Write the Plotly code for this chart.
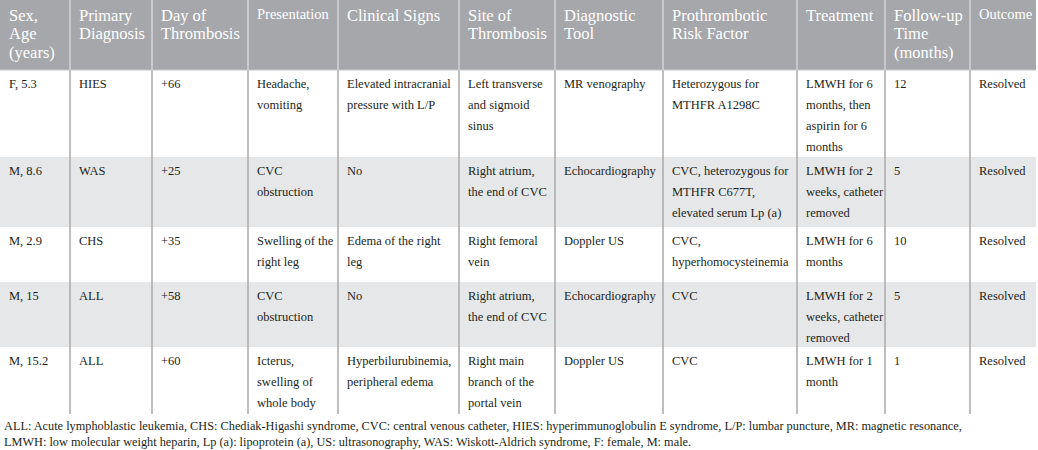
import plotly.graph_objects as go

# ---------------- data ----------------
headers = ["Sex,<br>Age<br>(years)", "Primary<br>Diagnosis", "Day of<br>Thrombosis",
           "Presentation", "Clinical Signs", "Site of<br>Thrombosis", "Diagnostic<br>Tool",
           "Prothrombotic<br>Risk Factor", "Treatment", "Follow-up<br>Time<br>(months)", "Outcome"]

sex_age = ["F, 5.3", "M, 8.6", "M, 2.9", "M, 15", "M, 15.2"]
primary_diagnosis = ["HIES", "WAS", "CHS", "ALL", "ALL"]
day_of_thrombosis = ["+66", "+25", "+35", "+58", "+60"]
presentation = ["Headache,<br>vomiting", "CVC<br>obstruction", "Swelling of the<br>right leg",
                "CVC<br>obstruction", "Icterus,<br>swelling of<br>whole body"]
clinical_signs = ["Elevated intracranial<br>pressure with L/P", "No", "Edema of the right<br>leg",
                  "No", "Hyperbilurubinemia,<br>peripheral edema"]
site_of_thrombosis = ["Left transverse<br>and sigmoid<br>sinus", "Right atrium,<br>the end of CVC",
                      "Right femoral<br>vein", "Right atrium,<br>the end of CVC",
                      "Right main<br>branch of the<br>portal vein"]
diagnostic_tool = ["MR venography", "Echocardiography", "Doppler US", "Echocardiography", "Doppler US"]
risk_factor = ["Heterozygous for<br>MTHFR A1298C",
               "CVC, heterozygous for<br>MTHFR C677T,<br>elevated serum Lp (a)",
               "CVC,<br>hyperhomocysteinemia", "CVC", "CVC"]
treatment = ["LMWH for 6<br>months, then<br>aspirin for 6<br>months",
             "LMWH for 2<br>weeks, catheter<br>removed", "LMWH for 6<br>months",
             "LMWH for 2<br>weeks, catheter<br>removed", "LMWH for 1<br>month"]
follow_up_months = ["12", "5", "10", "5", "1"]
outcome = ["Resolved", "Resolved", "Resolved", "Resolved", "Resolved"]

footnote = ["ALL: Acute lymphoblastic leukemia, CHS: Chediak-Higashi syndrome, CVC: central venous catheter, "
            "HIES: hyperimmunoglobulin E syndrome, L/P: lumbar puncture, MR: magnetic resonance,",
            "LMWH: low molecular weight heparin, Lp (a): lipoprotein (a), US: ultrasonography, "
            "WAS: Wiskott-Aldrich syndrome, F: female, M: male."]

columns = [sex_age, primary_diagnosis, day_of_thrombosis, presentation, clinical_signs,
           site_of_thrombosis, diagnostic_tool, risk_factor, treatment, follow_up_months, outcome]

# ---------------- layout parameters ----------------
W, H = 1038, 450
col_widths = [70, 82, 96, 90, 121, 96, 108, 134, 88, 85, 66]
header_height = 70
row_heights = [87, 70, 55, 65, 67]
pad_x = 7
body_first = 14
body_spacing = 21
head_first = 15
head_spacing = 18.7

HEADER_FILL = "#a6a7ab"
SHADE_FILL = "#e6e7e8"
BODY_LINE = "#aaaaaa"
HEAD_LINE = "#d4d4d6"
TEXT = "#231f20"
FONT = "Liberation Serif"

col_edges = [0]
for w in col_widths:
    col_edges.append(col_edges[-1] + w)
row_edges = [header_height]
for h in row_heights:
    row_edges.append(row_edges[-1] + h)

fig = go.Figure()
shapes = []
annotations = []

# header background
shapes.append(dict(type="rect", x0=0, x1=col_edges[-1], y0=0, y1=header_height,
                   fillcolor=HEADER_FILL, line_width=0, layer="below"))
# shaded rows
for r in range(len(row_heights)):
    if r % 2 == 1:
        shapes.append(dict(type="rect", x0=0, x1=col_edges[-1], y0=row_edges[r], y1=row_edges[r + 1],
                           fillcolor=SHADE_FILL, line_width=0, layer="below"))
# column separators
for x in col_edges[1:-1]:
    shapes.append(dict(type="line", x0=x, x1=x, y0=0, y1=header_height,
                       line=dict(color=HEAD_LINE, width=1.5)))
    shapes.append(dict(type="line", x0=x, x1=x, y0=header_height, y1=row_edges[-1],
                       line=dict(color=BODY_LINE, width=1.5)))
shapes.append(dict(type="line", x0=0, x1=col_edges[-1], y0=header_height, y1=header_height,
                   line=dict(color="#c8c8ca", width=1)))

# header text
for c, htxt in enumerate(headers):
    size = 14.5 if htxt in ("Presentation", "Outcome") else 16.5
    y0 = head_first - 1 if size < 16 else head_first
    for i, line in enumerate(htxt.split("<br>")):
        annotations.append(dict(x=col_edges[c] + pad_x, y=y0 + i * head_spacing,
                                text=line, showarrow=False, xanchor="left", yanchor="middle",
                                font=dict(family=FONT, size=size, color="white")))

# body text
for c, col in enumerate(columns):
    for r, val in enumerate(col):
        for i, line in enumerate(str(val).split("<br>")):
            annotations.append(dict(x=col_edges[c] + pad_x,
                                    y=row_edges[r] + body_first + i * body_spacing,
                                    text=line, showarrow=False, xanchor="left", yanchor="middle",
                                    font=dict(family=FONT, size=12.5, color=TEXT)))

# footnote
for i, line in enumerate(footnote):
    annotations.append(dict(x=2, y=row_edges[-1] + 12 + i * 16, text=line, showarrow=False,
                            xanchor="left", yanchor="middle",
                            font=dict(family=FONT, size=12.3, color=TEXT)))

fig.update_layout(
    width=W, height=H,
    margin=dict(l=0, r=0, t=0, b=0),
    paper_bgcolor="white", plot_bgcolor="white",
    xaxis=dict(range=[0, W], visible=False, fixedrange=True),
    yaxis=dict(range=[H, 0], visible=False, fixedrange=True),
    shapes=shapes, annotations=annotations, showlegend=False,
)

fig.write_html("out.html", config={"displayModeBar": False},
               post_script="document.body.style.margin='0';document.body.style.overflow='hidden';")
